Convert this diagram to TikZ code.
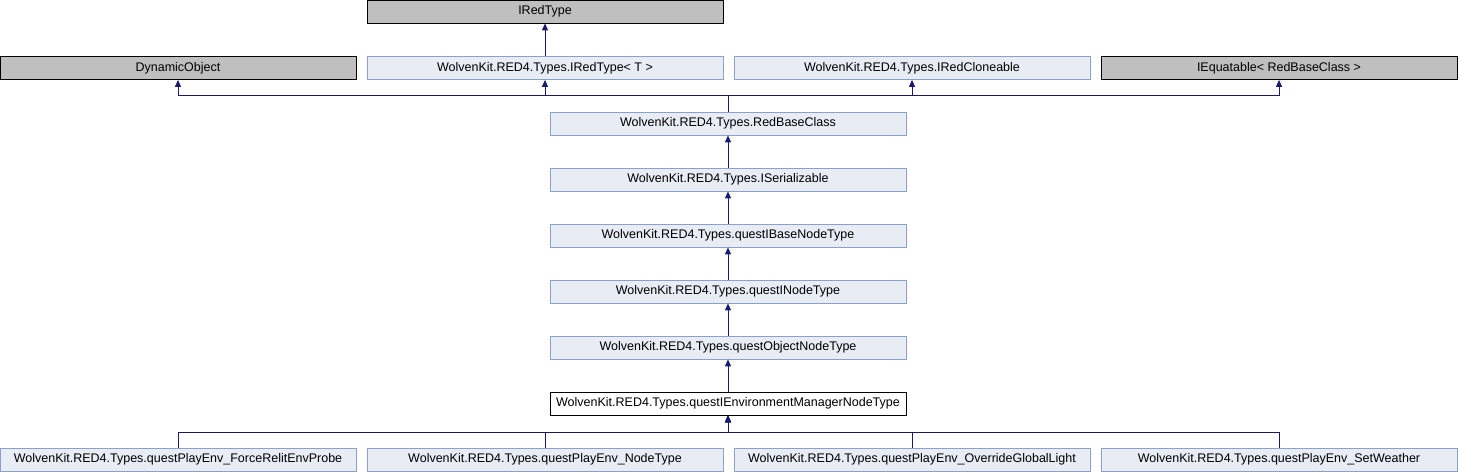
\documentclass[tikz,border=0pt]{standalone}
\usepackage{fontspec}
\setmainfont{Liberation Sans}
\usetikzlibrary{arrows.meta}
\definecolor{boxfill}{HTML}{E8ECF5}
\definecolor{boxline}{HTML}{8CA0CC}
\definecolor{grayfill}{HTML}{BFBFBF}
\definecolor{arrowcol}{HTML}{191970}
\begin{document}
\begin{tikzpicture}[x=1pt,y=1pt,
  cls/.style={draw=boxline,fill=boxfill,line width=0.8pt,minimum width=356pt,minimum height=23pt,inner sep=0pt,font=\fontsize{12.5}{14}\selectfont},
  ext/.style={cls,draw=black,fill=grayfill},
  cur/.style={cls,draw=black,fill=white},
  arr/.style={draw=arrowcol,line width=1pt,-{Triangle[length=7pt,width=6pt]}}]
\useasboundingbox (0,0) rectangle (1458,472);
\node[ext] (ired) at (545,460.5) {IRedType};
\node[ext] (dyn) at (178,404) {DynamicObject};
\node[cls] (iredt) at (545,404) {WolvenKit.RED4.Types.IRedType< T >};
\node[cls] (clone) at (912,404) {WolvenKit.RED4.Types.IRedCloneable};
\node[ext] (equat) at (1279,404) {IEquatable< RedBaseClass >};
\node[cls] (rbc) at (728,348.5) {WolvenKit.RED4.Types.RedBaseClass};
\node[cls] (iser) at (728,292.5) {WolvenKit.RED4.Types.ISerializable};
\node[cls] (ibase) at (728,236.5) {WolvenKit.RED4.Types.questIBaseNodeType};
\node[cls] (inode) at (728,180.5) {WolvenKit.RED4.Types.questINodeType};
\node[cls] (obj) at (728,124.5) {WolvenKit.RED4.Types.questObjectNodeType};
\node[cur] (env) at (728,68.5) {WolvenKit.RED4.Types.questIEnvironmentManagerNodeType};
\node[cls] (force) at (178,12.5) {WolvenKit.RED4.Types.questPlayEnv\_ForceRelitEnvProbe};
\node[cls] (nodet) at (545,12.5) {WolvenKit.RED4.Types.questPlayEnv\_NodeType};
\node[cls] (glob) at (912,12.5) {WolvenKit.RED4.Types.questPlayEnv\_OverrideGlobalLight};
\node[cls] (weath) at (1279,12.5) {WolvenKit.RED4.Types.questPlayEnv\_SetWeather};
\draw[arr] (iredt.north) -- (ired.south);
\foreach \p in {dyn,iredt,clone,equat}
  \draw[arr] (rbc.north) -- ++(0,16) -| (\p.south);
\draw[arr] (iser.north) -- (rbc.south);
\draw[arr] (ibase.north) -- (iser.south);
\draw[arr] (inode.north) -- (ibase.south);
\draw[arr] (obj.north) -- (inode.south);
\draw[arr] (env.north) -- (obj.south);
\foreach \c in {force,nodet,glob,weath}
  \draw[arr] (\c.north) |- ([yshift=-17pt]env.south) -- (env.south);
\end{tikzpicture}
\end{document}
